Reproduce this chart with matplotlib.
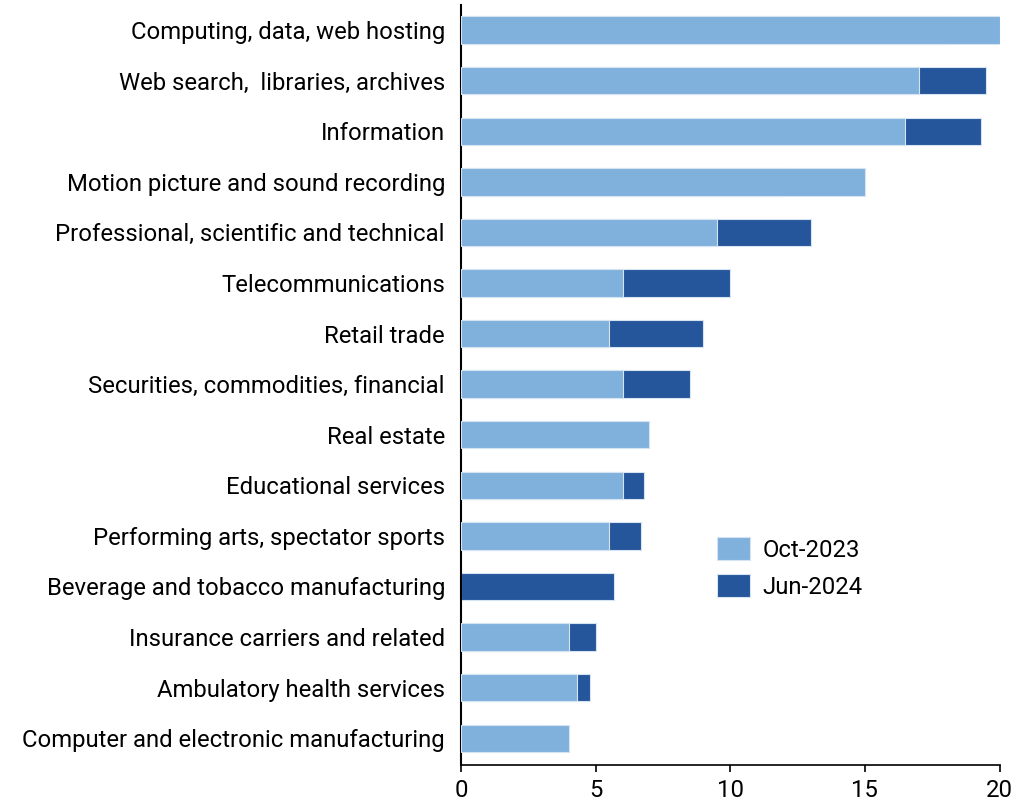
import numpy as np
import matplotlib
matplotlib.use("Agg")
import matplotlib.pyplot as plt

plt.rcParams['font.family'] = ['Roboto', 'DejaVu Sans']

categories = [
    "Computing, data, web hosting",
    "Web search,  libraries, archives",
    "Information",
    "Motion picture and sound recording",
    "Professional, scientific and technical",
    "Telecommunications",
    "Retail trade",
    "Securities, commodities, financial",
    "Real estate",
    "Educational services",
    "Performing arts, spectator sports",
    "Beverage and tobacco manufacturing",
    "Insurance carriers and related",
    "Ambulatory health services",
    "Computer and electronic manufacturing",
]
oct_2023 = [20.0, 17.0, 16.5, 15.0, 9.5, 6.0, 5.5, 6.0, 7.0, 6.0, 5.5, 0.0, 4.0, 4.3, 4.0]
jun_2024 = [18.0, 19.5, 19.3, 12.0, 13.0, 10.0, 9.0, 8.5, 5.0, 6.8, 6.7, 5.7, 5.0, 4.8, 3.0]
xticks = [0, 5, 10, 15, 20]

light = "#80B1DC"
dark = "#25569B"
fs = 17.2

fig = plt.figure(figsize=(10.22, 8.05), dpi=100)
ax = fig.add_axes([0.451, 0.0497, 0.527, 0.9443])

y = np.arange(len(categories))
h = 0.54
# later value drawn first, earlier value laid over it
ax.barh(y, jun_2024, height=h, color=dark, edgecolor="#D6E4F2", linewidth=0.8,
        label="Jun-2024", zorder=2)
oct_w = np.array(oct_2023, dtype=float)
oct_w[oct_w == 0] = np.nan
ax.barh(y, oct_w, height=h, color=light, edgecolor="#D6E4F2", linewidth=0.8,
        label="Oct-2023", zorder=3)

ax.set_yticks(y)
ax.set_yticklabels(categories, fontsize=fs)
ax.set_ylim(14.53, -0.5)
ax.set_xlim(0, 20)
ax.set_xticks(xticks)
ax.set_xticklabels([str(t) for t in xticks], fontsize=fs)

ax.tick_params(axis="y", length=0, pad=11.5)
ax.tick_params(axis="x", length=5, width=1.2, pad=5, direction="out")

for s in ["top", "right"]:
    ax.spines[s].set_visible(False)
ax.spines["left"].set_linewidth(1.5)
ax.spines["bottom"].set_linewidth(1.2)

handles, labels = ax.get_legend_handles_labels()
leg = ax.legend(handles[::-1], labels[::-1], frameon=False, fontsize=fs,
                loc="upper left", bbox_to_anchor=(0.436, 0.328),
                handlelength=1.38, handleheight=1.1, labelspacing=0.52,
                handletextpad=0.5)

fig.savefig("out.png", dpi=100)
